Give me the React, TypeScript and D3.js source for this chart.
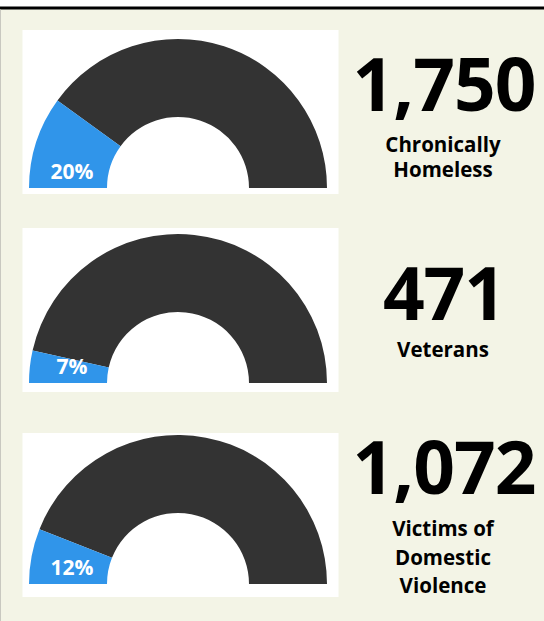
import React from "react";
import * as d3 from "d3";

const categories = ["Chronically Homeless", "Veterans", "Victims of Domestic Violence"];
const labelLines = [["Chronically", "Homeless"], ["Veterans"], ["Victims of", "Domestic", "Violence"]];
const counts = [1750, 471, 1072];
const percents = [20, 7, 12];

const W = 544;
const H = 621;
const BG = "#f3f4e6";
const BLUE = "#3095ea";
const DARK = "#333333";

// layout per row
const panelTops = [30, 228, 433];
const gaugeBases = [188, 383, 584];
const numBaselines = [111, 320, 494];
const labelBaselines = [[152, 177], [357], [536, 565, 593]];

export default function App() {
  const angle = d3.scaleLinear().domain([0, 100]).range([-Math.PI / 2, Math.PI / 2]);
  const arc = d3.arc<any>().innerRadius(71).outerRadius(149);
  const fmt = d3.format(",");
  return (
    <div style={{ position: "absolute", left: 0, top: 0, width: W, height: H }}>
      <svg width={W} height={H} style={{ display: "block" }}>
        <rect x={0} y={0} width={W} height={H} fill="#ffffff" />
        <rect x={0} y={9} width={W} height={H - 9} fill={BG} />
        <rect x={0} y={6.5} width={W} height={3} fill="#000000" />
        <rect x={0} y={9.5} width={1} height={H} fill="#c8c8c0" />
        {categories.map((c, i) => {
          const cx = 178;
          const cy = gaugeBases[i];
          const p = percents[i];
          return (
            <g key={c}>
              <rect x={22.5} y={panelTops[i]} width={316} height={164} fill="#ffffff" />
              <path
                transform={`translate(${cx},${cy})`}
                d={arc({ startAngle: angle(p), endAngle: angle(100) }) as string}
                fill={DARK}
              />
              <path
                transform={`translate(${cx},${cy})`}
                d={arc({ startAngle: angle(0), endAngle: angle(p) }) as string}
                fill={BLUE}
              />
              <text
                x={72}
                y={cy - 9}
                textAnchor="middle"
                fill="#ffffff"
                fontFamily="'Open Sans', sans-serif"
                fontWeight={700}
                fontSize={21}
              >
                {p}%
              </text>
              <text
                x={444}
                y={numBaselines[i]}
                textAnchor="middle"
                fill="#000000"
                fontFamily="'Open Sans', sans-serif"
                fontWeight={700}
                fontSize={73}
                letterSpacing={-1}
              >
                {fmt(counts[i])}
              </text>
              {labelLines[i].map((l, j) => (
                <text
                  key={j}
                  x={443}
                  y={labelBaselines[i][j]}
                  textAnchor="middle"
                  fill="#000000"
                  fontFamily="'Open Sans', sans-serif"
                  fontWeight={700}
                  fontSize={20.5}
                >
                  {l}
                </text>
              ))}
            </g>
          );
        })}
      </svg>
    </div>
  );
}
